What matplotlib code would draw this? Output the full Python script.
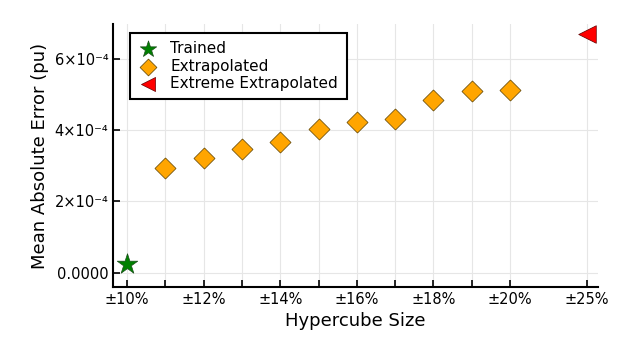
import matplotlib
matplotlib.use("Agg")
import matplotlib.pyplot as plt

# Data
trained_x = [0]
trained_y = [2.5e-5]
extrap_x = [1, 2, 3, 4, 5, 6, 7, 8, 9, 10]
extrap_y = [2.93e-4, 3.21e-4, 3.47e-4, 3.66e-4, 4.02e-4, 4.23e-4, 4.31e-4, 4.85e-4, 5.10e-4, 5.14e-4]
extreme_x = [12]
extreme_y = [6.70e-4]
tick_pos = [0, 1, 2, 3, 4, 5, 6, 7, 8, 9, 10, 12]
tick_labels = ["±10%", "", "±12%", "", "±14%", "", "±16%", "", "±18%", "", "±20%", "±25%"]
ytick_vals = [0, 2e-4, 4e-4, 6e-4]
ytick_labels = ["0.0000", "2×10⁻⁴", "4×10⁻⁴", "6×10⁻⁴"]

plt.rcParams['font.family'] = ['DejaVu Sans']
fig = plt.figure(figsize=(6.23, 3.53), dpi=100)
ax = fig.add_axes([113/623, 1 - 287/353, (598-113)/623, (287-24)/353])

ax.scatter(trained_x, trained_y, marker='*', s=240, color='green', edgecolors='#1a4d1a', linewidths=0.5, label='Trained', zorder=3)
ax.scatter(extrap_x, extrap_y, marker='D', s=115, color='orange', edgecolors='#5a4000', linewidths=0.5, label='Extrapolated', zorder=3)
ax.scatter(extreme_x, extreme_y, marker='<', s=160, color='red', edgecolors='#600000', linewidths=0.5, label='Extreme Extrapolated', zorder=3)

ax.set_xlim(-0.37, 12.3)
ax.set_ylim(-0.4e-4, 6.98e-4)
ax.set_xticks(tick_pos)
ax.set_xticklabels(tick_labels, fontsize=10.5)
ax.set_yticks(ytick_vals)
ax.set_yticklabels(ytick_labels, fontsize=10.5)
ax.tick_params(direction='in', length=5, width=1.2)
ax.grid(True, color='#e6e6e6', linewidth=0.8)
ax.set_axisbelow(True)
for s in ['top', 'right']:
    ax.spines[s].set_visible(False)
for s in ['left', 'bottom']:
    ax.spines[s].set_linewidth(1.5)

ax.set_xlabel("Hypercube Size", fontsize=13)
ax.set_ylabel("Mean Absolute Error (pu)", fontsize=13)

leg = ax.legend(loc='upper left', bbox_to_anchor=(0.035, 0.966), fontsize=11, frameon=True,
                fancybox=False, edgecolor='black', framealpha=1, handletextpad=0.9,
                handlelength=1.2, labelspacing=0.15, borderpad=0.55, borderaxespad=0,
                markerscale=0.8)
leg.get_frame().set_linewidth(1.5)

fig.savefig("out.png", dpi=100)
